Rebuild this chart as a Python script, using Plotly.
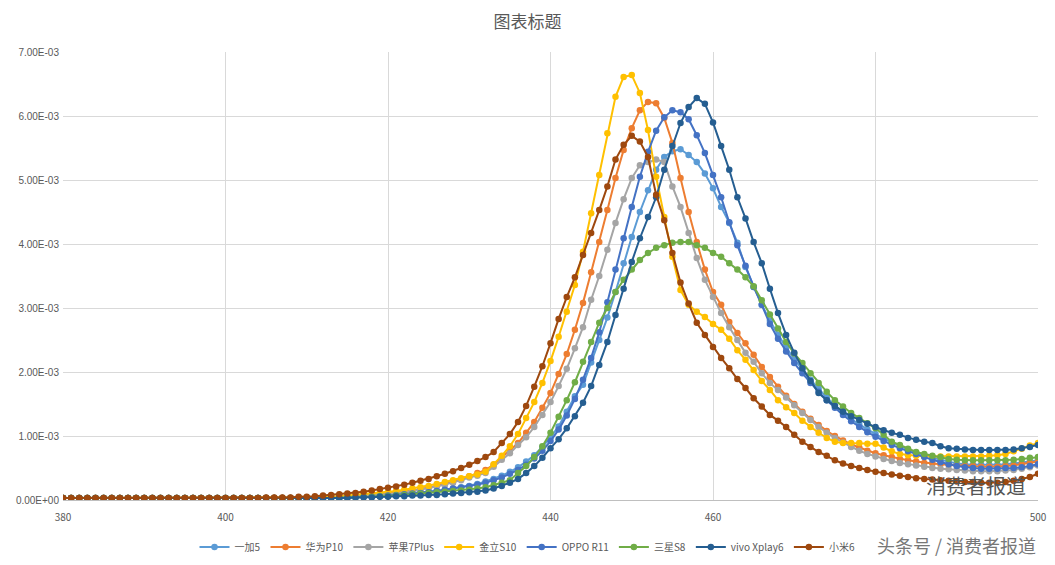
import plotly.graph_objects as go

wavelengths = list(range(380, 501))

base = [0.03, 0.03, 0.03, 0.03, 0.03, 0.03, 0.03, 0.03, 0.03, 0.03,
        0.03, 0.03, 0.03, 0.03, 0.03, 0.03, 0.03, 0.03, 0.03, 0.03,
        0.03, 0.03, 0.03, 0.03, 0.03, 0.03, 0.03, 0.03, 0.03, 0.03]

oneplus5 = base + [0.02,0.02,0.03,0.03,0.03,0.04,0.04,0.05,0.05,0.06,0.07,0.08,0.09,0.10,0.11,0.12,0.14,0.16,0.18,0.20,
    0.22,0.25,0.29,0.33,0.38,0.44,0.51,0.60,0.70,0.83,0.98,1.15,1.38,1.62,1.80,2.15,2.50,2.85,3.25,3.70,
    4.11,4.50,4.84,5.16,5.36,5.45,5.48,5.39,5.28,5.10,
    4.87,4.58,4.33,4.02,3.64,3.33,3.05,2.80,2.58,2.38,
    2.20,2.04,1.88,1.74,1.60,1.48,1.37,1.27,1.18,1.10,
    1.03,0.96,0.90,0.84,0.79,0.74,0.70,0.66,0.63,0.60,
    0.57,0.56,0.55,0.55,0.55,0.55,0.56,0.57,0.58,0.60,0.62]

huawei = base + [0.03,0.03,0.04,0.04,0.05,0.05,0.06,0.07,0.08,0.09,0.10,0.11,0.13,0.15,0.17,0.19,0.22,0.25,0.28,0.32,0.37,0.42,
    0.47,0.55,0.66,0.78,0.89,1.05,1.22,1.44,1.67,1.97,2.28,2.66,3.08,3.56,4.03,4.53,5.03,5.47,
    5.81,6.09,6.22,6.20,5.97,5.58,5.03,4.50,4.03,3.60,
    3.25,3.05,2.78,2.61,2.45,2.27,2.08,1.92,1.77,1.63,
    1.50,1.38,1.27,1.17,1.08,1.00,0.93,0.87,0.82,0.77,
    0.73,0.70,0.67,0.64,0.62,0.60,0.58,0.57,0.56,0.55,
    0.54,0.53,0.53,0.52,0.52,0.52,0.53,0.54,0.56,0.58,0.60]

apple = base + [0.03,0.03,0.03,0.04,0.04,0.05,0.05,0.06,0.07,0.08,0.09,0.10,0.12,0.14,0.16,0.18,0.21,0.24,0.27,0.31,0.35,0.38,
    0.42,0.52,0.63,0.73,0.86,0.98,1.14,1.33,1.53,1.78,2.05,2.37,2.70,3.13,3.50,3.91,4.33,4.70,
    5.03,5.23,5.28,5.32,5.28,4.90,4.58,4.17,3.78,3.44,
    3.17,2.92,2.70,2.50,2.30,2.16,1.98,1.83,1.72,1.60,
    1.48,1.36,1.25,1.14,1.05,0.97,0.90,0.83,0.77,0.72,
    0.68,0.64,0.61,0.58,0.56,0.54,0.52,0.50,0.49,0.48,
    0.47,0.46,0.45,0.45,0.45,0.45,0.46,0.47,0.49,0.51,0.54]

gionee = base + [0.04,0.04,0.05,0.05,0.06,0.07,0.08,0.09,0.10,0.11,0.12,0.14,0.16,0.18,0.20,0.22,0.25,0.28,0.31,0.34,0.37,0.40,
    0.44,0.56,0.69,0.84,1.03,1.28,1.53,1.83,2.17,2.55,2.94,3.36,3.88,4.48,5.08,5.73,6.30,6.61,
    6.64,6.36,5.78,5.05,4.42,3.80,3.28,3.05,2.94,2.86,
    2.75,2.66,2.52,2.34,2.19,2.03,1.86,1.72,1.56,1.45,
    1.36,1.24,1.14,1.05,0.97,0.91,0.89,0.89,0.89,0.88,0.88,
    0.82,0.76,0.72,0.70,0.69,0.68,0.68,0.68,0.68,0.68,
    0.68,0.68,0.68,0.69,0.70,0.72,0.76,0.80,0.85,0.89]

oppo = base + [0.02,0.02,0.03,0.03,0.03,0.04,0.04,0.05,0.05,0.06,0.07,0.08,0.09,0.10,0.11,0.12,0.14,0.16,0.18,0.19,
    0.21,0.24,0.27,0.31,0.35,0.41,0.47,0.55,0.65,0.77,0.92,1.10,1.32,1.58,1.88,2.22,2.62,3.09,3.60,4.09,
    4.58,5.05,5.44,5.77,5.98,6.09,6.06,5.95,5.70,5.42,
    5.08,4.73,4.34,3.98,3.66,3.33,3.05,2.75,2.52,2.32,
    2.14,1.98,1.83,1.69,1.56,1.44,1.33,1.23,1.14,1.06,
    0.99,0.92,0.86,0.81,0.76,0.72,0.67,0.63,0.59,0.56,
    0.53,0.51,0.50,0.49,0.49,0.49,0.50,0.50,0.51,0.53,0.56]

samsung = base + [0.02,0.02,0.03,0.03,0.03,0.04,0.04,0.05,0.05,0.06,0.06,0.07,0.08,0.09,0.10,0.11,0.12,0.13,0.14,0.15,0.16,0.18,
    0.20,0.23,0.27,0.31,0.42,0.53,0.67,0.84,1.05,1.30,1.56,1.84,2.16,2.47,2.77,3.00,3.25,3.44,
    3.60,3.75,3.86,3.94,3.98,4.02,4.03,4.03,3.98,3.94,
    3.86,3.80,3.70,3.60,3.48,3.34,3.12,2.90,2.68,2.47,
    2.29,2.14,1.98,1.83,1.69,1.56,1.46,1.36,1.28,1.20,
    1.12,1.02,0.91,0.86,0.80,0.75,0.72,0.69,0.67,0.64,
    0.63,0.62,0.62,0.62,0.62,0.62,0.62,0.63,0.64,0.66,0.67]

vivo = base + [0.02,0.02,0.02,0.03,0.03,0.03,0.04,0.04,0.04,0.05,0.05,0.06,0.06,0.07,0.07,0.08,0.08,0.09,0.10,0.11,0.12,0.13,
    0.15,0.18,0.22,0.27,0.33,0.42,0.53,0.66,0.81,0.95,1.12,1.31,1.52,1.78,2.11,2.47,2.89,3.30,
    3.72,4.09,4.42,4.73,5.16,5.53,5.89,6.14,6.28,6.19,
    5.90,5.53,5.16,4.73,4.40,4.03,3.70,3.30,2.92,2.58,
    2.30,2.06,1.86,1.67,1.56,1.47,1.38,1.31,1.25,1.19,
    1.14,1.09,1.05,1.02,0.97,0.94,0.91,0.89,0.84,0.81,
    0.80,0.79,0.78,0.78,0.78,0.78,0.78,0.79,0.81,0.83,0.86]

xiaomi = [0.03,0.03,0.03,0.03,0.03,0.03,0.03,0.03,0.03,0.03,
    0.03,0.03,0.03,0.03,0.03,0.03,0.03,0.03,0.03,0.03,
    0.03,0.03,0.03,0.03,0.03,0.04,0.04,0.04,0.04,0.05,
    0.05,0.06,0.07,0.08,0.09,0.10,0.11,0.13,0.15,0.17,0.19,0.21,0.24,0.27,0.30,0.33,0.37,0.41,0.45,0.50,
    0.55,0.61,0.67,0.75,0.89,1.03,1.22,1.47,1.77,2.09,2.45,2.83,3.17,3.48,3.83,4.17,4.53,4.90,5.32,5.55,
    5.69,5.60,5.36,4.77,4.37,3.86,3.40,3.07,2.77,2.58,
    2.39,2.22,2.06,1.89,1.75,1.59,1.46,1.33,1.24,1.14,
    1.02,0.91,0.83,0.75,0.69,0.62,0.57,0.53,0.50,0.47,
    0.44,0.42,0.40,0.38,0.36,0.34,0.33,0.32,0.31,0.30,
    0.29,0.28,0.28,0.27,0.27,0.27,0.28,0.30,0.33,0.36,0.41]

names = ["一加5", "华为P10", "苹果7Plus", "金立S10", "OPPO R11", "三星S8", "vivo Xplay6", "小米6"]
series = [oneplus5, huawei, apple, gionee, oppo, samsung, vivo, xiaomi]
colors = ["#5B9BD5", "#ED7D31", "#A5A5A5", "#FFC000", "#4472C4", "#70AD47", "#255E91", "#9E480E"]

y_ticks = [0, 0.001, 0.002, 0.003, 0.004, 0.005, 0.006, 0.007]
y_labels = ["0.00E+00", "1.00E-03", "2.00E-03", "3.00E-03", "4.00E-03", "5.00E-03", "6.00E-03", "7.00E-03"]

fig = go.Figure()
for name, vals, c in zip(names, series, colors):
    fig.add_trace(go.Scatter(
        x=wavelengths, y=[v * 1e-3 for v in vals], name=name, mode="lines+markers",
        line=dict(color=c, width=2), marker=dict(color=c, size=6.5)))

font = "Noto Sans CJK SC"
fig.update_layout(
    width=1039, height=549, paper_bgcolor="white", plot_bgcolor="white",
    margin=dict(l=55, r=9, t=44, b=57),
    title=dict(text="图表标题", x=0.5, xanchor="center", y=0.975, yanchor="middle",
               font=dict(family=font, size=17, color="#595959"), automargin=False),
    font=dict(family=font, size=10, color="#595959"),
    showlegend=True,
    legend=dict(orientation="h", x=0.5, xanchor="center", xref="container",
                y=0.018, yanchor="middle", yref="container",
                font=dict(family=font, size=10, color="#595959"), itemwidth=30),
    xaxis=dict(range=[380, 500], tickvals=[380, 400, 420, 440, 460, 480, 500],
               ticktext=["380", "400", "420", "440", "460", "", "500"],
               showgrid=True, gridcolor="#D9D9D9", zeroline=False, automargin=False,
               showline=True, linecolor="#BFBFBF", ticks="", ticklabelstandoff=8,
               tickfont=dict(size=10)),
    yaxis=dict(range=[0, 0.007], tickvals=y_ticks, ticktext=y_labels, automargin=False,
               showgrid=True, gridcolor="#D9D9D9", zeroline=False, ticks="",
               ticklabelstandoff=3, tickfont=dict(family="Liberation Sans", size=10)),
)
fig.add_annotation(text="消费者报道", xref="paper", yref="paper", x=0.99, y=-0.005,
                   xanchor="right", yanchor="bottom", showarrow=False,
                   font=dict(family=font, size=20, color="#555555"))
fig.add_annotation(text="头条号 / 消费者报道", xref="paper", yref="paper", x=1.0, y=-0.1,
                   xanchor="right", yanchor="middle", showarrow=False,
                   font=dict(family=font, size=18, color="#777777"))
fig.write_html("out.html")
